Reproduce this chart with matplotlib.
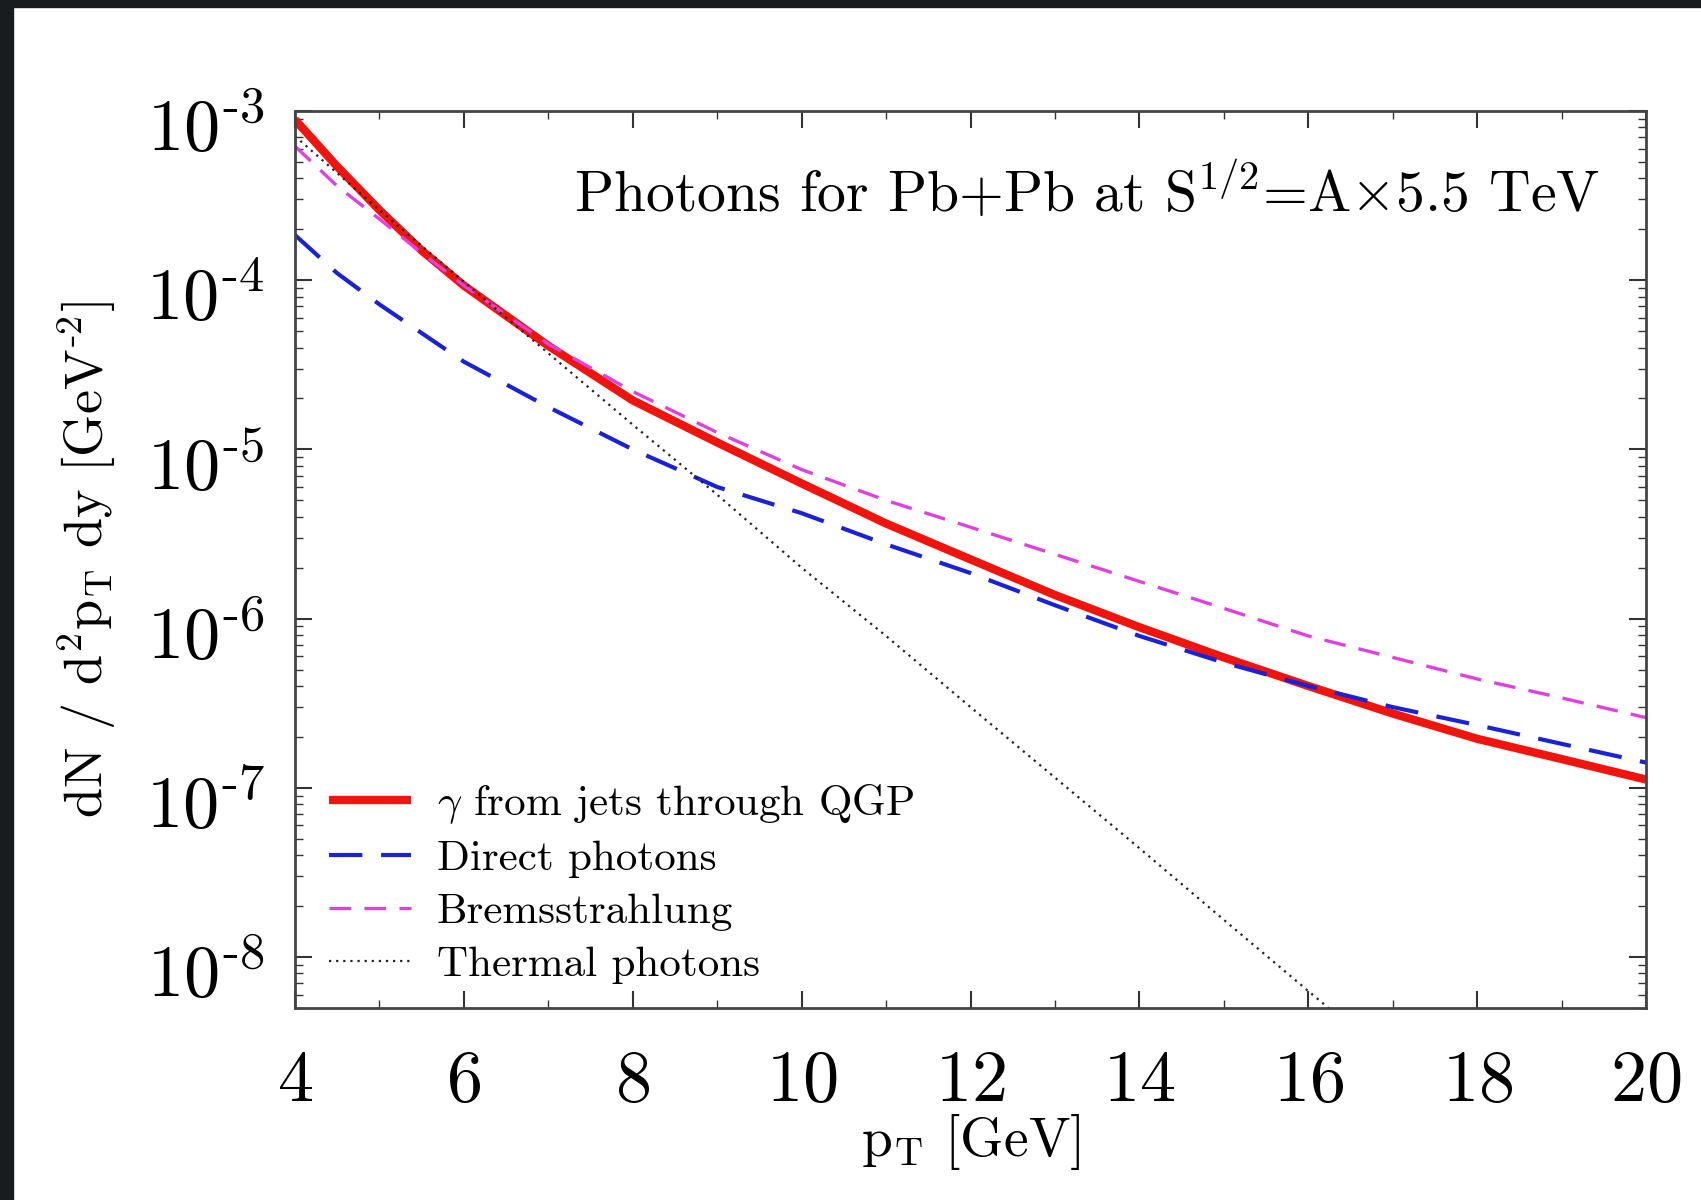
import math

import matplotlib
matplotlib.use("Agg")
import matplotlib.pyplot as plt
from matplotlib.patches import Rectangle
from matplotlib.transforms import ScaledTranslation
from matplotlib.ticker import LogLocator, MultipleLocator, FuncFormatter, NullFormatter

plt.rcParams["font.family"] = ["cmr10"]
plt.rcParams["mathtext.fontset"] = "cm"
plt.rcParams["axes.unicode_minus"] = False
plt.rcParams["axes.formatter.use_mathtext"] = True

# photon spectra vs pT (GeV), dN/d^2pT dy in GeV^-2
pt_jet = [4, 4.5, 5, 5.5, 6, 7, 8, 9, 10, 11, 12, 13, 14, 15, 16, 17, 18, 19, 20]
jet_qgp = [8.9e-4, 4.7e-4, 2.6e-4, 1.5e-4, 9.3e-5, 4.1e-5, 1.95e-5, 1.1e-5, 6.3e-6,
           3.65e-6, 2.24e-6, 1.38e-6, 8.9e-7, 5.9e-7, 4.0e-7, 2.75e-7, 1.95e-7,
           1.48e-7, 1.12e-7]

pt_dir = [4, 4.5, 5, 6, 7, 8, 9, 10, 11, 12, 13, 14, 15, 16, 17, 18, 19, 20]
direct = [1.85e-4, 1.1e-4, 7.2e-5, 3.3e-5, 1.78e-5, 1.0e-5, 6.0e-6, 4.2e-6, 2.75e-6,
          1.86e-6, 1.2e-6, 7.9e-7, 5.5e-7, 4.0e-7, 3.0e-7, 2.35e-7, 1.82e-7, 1.41e-7]

pt_brems = [4, 4.5, 5, 5.5, 6, 7, 8, 9, 10, 11, 12, 13, 14, 15, 16, 17, 18, 19, 20]
brems = [6.2e-4, 3.6e-4, 2.3e-4, 1.45e-4, 9.3e-5, 4.2e-5, 2.2e-5, 1.26e-5, 7.6e-6,
         5.0e-6, 3.47e-6, 2.4e-6, 1.66e-6, 1.15e-6, 7.9e-7, 5.9e-7, 4.4e-7, 3.4e-7,
         2.6e-7]

pt_th = [4, 5, 6, 7, 8, 9, 10, 11, 12, 13, 14, 15, 16, 17]
thermal = [7.1e-4, 2.6e-4, 9.8e-5, 3.7e-5, 1.4e-5, 5.4e-6, 2.0e-6, 7.9e-7, 3.0e-7,
           1.15e-7, 4.4e-8, 1.66e-8, 6.3e-9, 2.4e-9]

labels = [r"$\gamma$ from jets through QGP", "Direct photons",
          "Bremsstrahlung", "Thermal photons"]


def decade_label(v, pos):
    # 10^-n with a short hyphen, as in the printed figure
    n = int(round(math.log10(v)))
    return r"$\mathdefault{10^{\text{-}%d}}$" % -n


fig = plt.figure(figsize=(17.01, 12.0), dpi=100)
fig.patch.set_facecolor("white")
# dark slide frame on the left and top edges
fig.patches.append(Rectangle((0, 0), 13 / 1701, 1, transform=fig.transFigure,
                             color="#181c1f", zorder=10))
fig.patches.append(Rectangle((0, 1 - 7 / 1200), 1, 7 / 1200, transform=fig.transFigure,
                             color="#181c1f", zorder=10))

ax = fig.add_axes([0.1734, 0.16, 0.7943, 0.7475])
ax.plot(pt_jet, jet_qgp, color="#f0140f", lw=6.0, solid_capstyle="butt", label=labels[0])
ax.plot(pt_dir, direct, color="#1a22d8", lw=3.0, dashes=(8, 4.5), label=labels[1])
ax.plot(pt_brems, brems, color="#e040e0", lw=2.4, dashes=(6.5, 4), label=labels[2])
ax.plot(pt_th, thermal, color="#222222", lw=1.6, dashes=(1, 2.2), label=labels[3])

ax.set_yscale("log")
ax.set_xlim(4, 20)
ax.set_ylim(5e-9, 1e-3)
ax.xaxis.set_major_locator(MultipleLocator(2))
ax.xaxis.set_minor_locator(MultipleLocator(1))
ax.yaxis.set_major_locator(LogLocator(base=10, numticks=20))
ax.yaxis.set_minor_locator(LogLocator(base=10, subs=range(2, 10), numticks=20))
ax.yaxis.set_major_formatter(FuncFormatter(decade_label))
ax.yaxis.set_minor_formatter(NullFormatter())
ax.tick_params(which="both", direction="in", top=True, right=True, colors="#333333",
               labelcolor="black", labelsize=52)
ax.tick_params(which="major", length=12, width=1.5)
ax.tick_params(axis="x", which="major", pad=30)
ax.tick_params(axis="y", which="major", pad=22)
ax.tick_params(which="minor", length=6, width=1.0)
for s in ax.spines.values():
    s.set_linewidth(2.0)
    s.set_color("#444444")

# y tick labels sit a little below their ticks
shift = ScaledTranslation(0, -0.13, fig.dpi_scale_trans)
for lab in ax.get_yticklabels():
    lab.set_transform(lab.get_transform() + shift)

ax.set_xlabel(r"$\mathrm{p_T}$ [GeV]", fontsize=40, labelpad=-2)
ax.set_ylabel(r"dN / d$^2$p$_\mathrm{T}$ dy [GeV$^{\text{-}2}$]", fontsize=39, labelpad=20)

ax.text(0.966, 0.91, r"Photons for Pb+Pb at S$^{1/2}$=A$\times$5.5 TeV",
        transform=ax.transAxes, ha="right", va="center", fontsize=41.5)

ax.legend(loc="lower left", bbox_to_anchor=(0.0126, 0.0075), borderaxespad=0,
          frameon=False, fontsize=31, handlelength=1.9, handletextpad=0.6,
          labelspacing=0.34)

fig.savefig("out.png", dpi=100)
